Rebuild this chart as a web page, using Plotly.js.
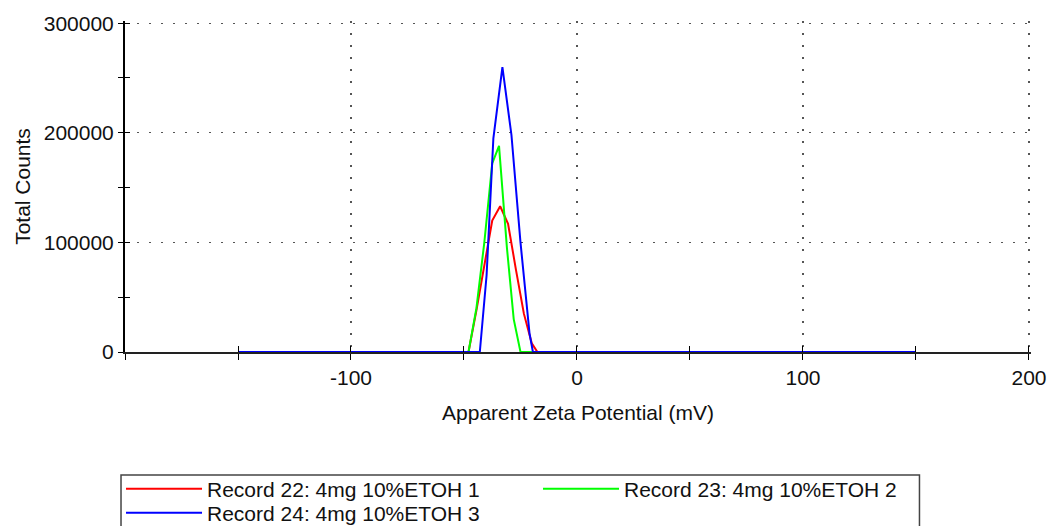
<!DOCTYPE html>
<html>
<head>
<meta charset="utf-8">
<script src="https://cdn.plot.ly/plotly-3.0.1.min.js"></script>
<style>
  html, body { margin: 0; padding: 0; background: #fff; }
  #chart { width: 1050px; height: 526px; }
</style>
</head>
<body>
<div id="chart"></div>
<script>
// ---- data ----
const seriesNames = ["Record 22: 4mg 10%ETOH 1", "Record 23: 4mg 10%ETOH 2", "Record 24: 4mg 10%ETOH 3"];

const redX = [-150, -48, -44.5, -41, -37.5, -34, -30.5, -27, -23.5, -20, -17.5, 150];
const redY = [0, 0, 38000, 80000, 120000, 133000, 117000, 75000, 35000, 8000, 0, 0];

const greenX = [-150, -48, -44.5, -41, -37.5, -34.5, -31, -28, -25, 150];
const greenY = [0, 0, 40000, 100000, 172000, 188000, 95000, 30000, 0, 0];

const blueX = [-150, -43, -40, -37, -33, -29, -25, -21, -19.5, 150];
const blueY = [0, 0, 70000, 195000, 260000, 198000, 100000, 17000, 0, 0];

const xTickVals = [-100, 0, 100, 200];
const xTickText = ["-100", "0", "100", "200"];
const xMinorVals = [-200, -150, -50, 50, 150];
const yTickVals = [0, 100000, 200000, 300000];
const yTickText = ["0", "100000", "200000", "300000"];
const yMinorVals = [50000, 150000, 250000];

const FONT = "'Liberation Sans', Arial, sans-serif";
const TXT = "#111";

const traces = [
  {x: redX, y: redY, name: seriesNames[0], mode: "lines", line: {color: "#ff0000", width: 2}, legend: "legend"},
  {x: greenX, y: greenY, name: seriesNames[1], mode: "lines", line: {color: "#00ff00", width: 2}, legend: "legend"},
  {x: blueX, y: blueY, name: seriesNames[2], mode: "lines", line: {color: "#0000ff", width: 2}, legend: "legend2"},
  // empty trace so the overlay axes (inner half of the crossing ticks) get drawn
  {x: [], y: [], xaxis: "x2", yaxis: "y2", mode: "lines", showlegend: false, hoverinfo: "skip"}
];

const grid = {griddash: "2px,10px", gridcolor: "#555", gridwidth: 1.2};
const XR = [-200, 200.9];
const YR = [0, 302000];

const layout = {
  width: 1050, height: 526,
  margin: {l: 125, r: 19, t: 21, b: 174, autoexpand: false},
  paper_bgcolor: "#fff", plot_bgcolor: "#fff",
  font: {family: FONT, size: 21, color: TXT},
  showlegend: true,
  xaxis: Object.assign({
    range: XR, tickvals: xTickVals, ticktext: xTickText, ticks: "outside", ticklen: 6, tickwidth: 1, tickcolor: "#000",
    minor: {tickvals: xMinorVals, ticks: "outside", ticklen: 6, tickwidth: 1, tickcolor: "#000", showgrid: false},
    showline: true, linecolor: "#222", linewidth: 2, zeroline: false, showgrid: true,
    title: {text: "Apparent Zeta Potential (mV)", font: {family: FONT, size: 21, color: TXT}, standoff: 17},
    tickfont: {family: FONT, size: 21, color: TXT}, fixedrange: true
  }, grid),
  xaxis2: {
    overlaying: "x", anchor: "y2", side: "bottom", range: XR,
    tickvals: xTickVals.concat(xMinorVals), ticks: "inside", ticklen: 6, tickwidth: 1, tickcolor: "#000",
    showticklabels: false, showgrid: false, zeroline: false, showline: false, fixedrange: true
  },
  yaxis: Object.assign({
    range: YR, tickvals: yTickVals, ticktext: yTickText, ticks: "outside", ticklen: 5, tickwidth: 1, tickcolor: "#000",
    minor: {tickvals: yMinorVals, ticks: "outside", ticklen: 5, tickwidth: 1, tickcolor: "#000", showgrid: false},
    showline: true, linecolor: "#000", linewidth: 2, zeroline: false, showgrid: true,
    title: {text: "Total Counts", font: {family: FONT, size: 21, color: TXT}, standoff: 7},
    tickfont: {family: FONT, size: 21, color: TXT}, fixedrange: true
  }, grid),
  yaxis2: {
    overlaying: "y", anchor: "x2", side: "left", range: YR,
    tickvals: yTickVals.concat(yMinorVals), ticks: "inside", ticklen: 5, tickwidth: 1, tickcolor: "#000",
    showticklabels: false, showgrid: false, zeroline: false, showline: false, fixedrange: true
  },
  legend: {
    orientation: "h", x: -0.0044, xanchor: "left", y: -0.4139, yanchor: "middle",
    itemwidth: 76, entrywidth: 326, borderwidth: 0, bgcolor: "rgba(0,0,0,0)",
    font: {family: FONT, size: 21, color: TXT}, itemclick: false, itemdoubleclick: false
  },
  legend2: {
    orientation: "h", x: -0.0044, xanchor: "left", y: -0.4864, yanchor: "middle",
    itemwidth: 76, borderwidth: 0, bgcolor: "rgba(0,0,0,0)",
    font: {family: FONT, size: 21, color: TXT}, itemclick: false, itemdoubleclick: false
  },
  shapes: [
    {type: "rect", xref: "paper", yref: "paper", x0: -0.0044, x1: 0.8769, y0: -0.3716, y1: -0.64,
     line: {color: "#444", width: 1.5}, fillcolor: "rgba(0,0,0,0)", layer: "below"}
  ]
};

Plotly.newPlot("chart", traces, layout, {displayModeBar: false, staticPlot: true});
</script>
</body>
</html>
